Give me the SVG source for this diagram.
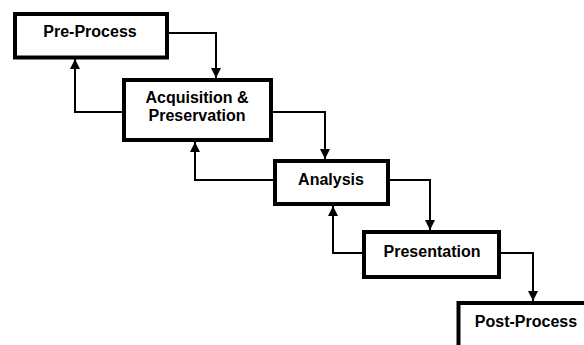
<svg xmlns="http://www.w3.org/2000/svg" width="584" height="345" viewBox="0 0 584 345">
<style>
.box{fill:#fff;stroke:#000;stroke-width:4}
.lbl{font-family:"Liberation Sans",Arial,sans-serif;font-weight:bold;font-size:16px;fill:#000;text-anchor:middle}
.con{fill:none;stroke:#000;stroke-width:2}
</style>
<defs>
<marker id="arr" markerUnits="userSpaceOnUse" markerWidth="10" markerHeight="10" viewBox="0 0 10 10" refX="10" refY="5" orient="auto">
<path d="M0,0 L10,5 L0,10 Z" fill="#000"/>
</marker>
</defs>
<rect width="584" height="345" fill="#fff"/>
<g id="connectors">
<path class="con" d="M169,33 H216 V78" marker-end="url(#arr)"/>
<path class="con" d="M122,112 H75 V59" marker-end="url(#arr)"/>
<path class="con" d="M273,112 H325 V159" marker-end="url(#arr)"/>
<path class="con" d="M273,180 H195 V142" marker-end="url(#arr)"/>
<path class="con" d="M390,180 H430 V230" marker-end="url(#arr)"/>
<path class="con" d="M362,253 H333 V206" marker-end="url(#arr)"/>
<path class="con" d="M501,253 H533 V301" marker-end="url(#arr)"/>
</g>
<g id="pre-process">
<rect class="box" x="15" y="14" width="152" height="43.5"/>
<text class="lbl" x="90" y="37">Pre-Process</text>
</g>
<g id="acquisition">
<rect class="box" x="124" y="80" width="147" height="60"/>
<text class="lbl" x="197" y="103">Acquisition &amp;</text>
<text class="lbl" x="197" y="121">Preservation</text>
</g>
<g id="analysis">
<rect class="box" x="275" y="161" width="113" height="43"/>
<text class="lbl" x="331" y="185">Analysis</text>
</g>
<g id="presentation">
<rect class="box" x="364" y="232" width="135" height="45"/>
<text class="lbl" x="432" y="257">Presentation</text>
</g>
<g id="post-process">
<rect class="box" x="458.5" y="303" width="200" height="100"/>
<text class="lbl" x="526" y="327">Post-Process</text>
</g>
</svg>
